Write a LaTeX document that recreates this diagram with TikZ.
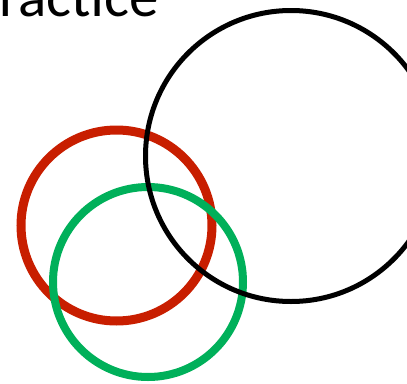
\documentclass[tikz,border=0pt]{standalone}
\usepackage{fontspec}
\setmainfont{Carlito}
\usetikzlibrary{positioning}
\definecolor{ringred}{RGB}{200,30,0}
\definecolor{ringgreen}{RGB}{0,176,90}

\begin{document}
\begin{tikzpicture}[
      x=1pt, y=-1pt,
      ring/.style={draw, circle, inner sep=0pt},
      title/.style={font=\fontsize{59}{59}\selectfont, inner sep=0pt}
    ]
    \useasboundingbox (0,0) rectangle (407,383);
    \clip (0,0) rectangle (407,383);

    % Titel
    \node[title, anchor=base east] (head) at (159,16) {Practice};

    % Ringe
    \node[ring, draw=ringred, line width=9pt, minimum size=191pt]   (redring)   at (116.5,225.5) {};
    \node[ring, draw=ringgreen, line width=8pt, minimum size=190pt] (greenring) at (148,282) {};
    \node[ring, draw=black, line width=5pt, minimum size=291pt]     (blackring) at (291,156) {};
  \end{tikzpicture}
\end{document}
